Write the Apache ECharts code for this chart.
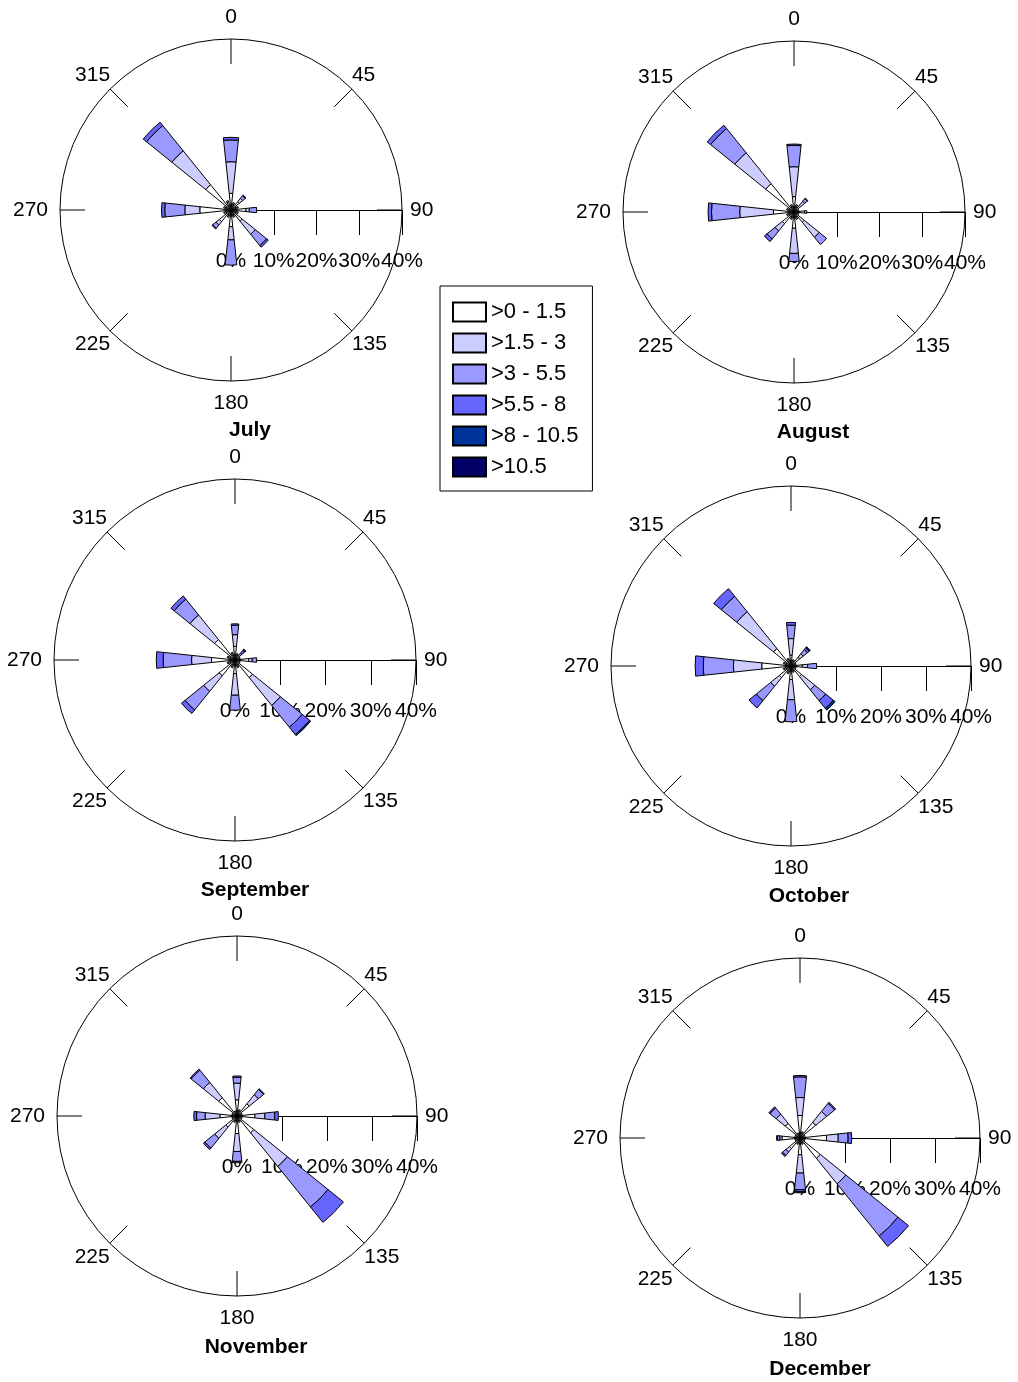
<!DOCTYPE html>
<html><head><meta charset="utf-8">
<script src="https://cdn.jsdelivr.net/npm/echarts@6/dist/echarts.min.js"></script>
<style>html,body{margin:0;padding:0;background:#fff}#c{width:1018px;height:1382px}</style>
</head><body><div id="c"></div>
<script>
// ---------- data ----------
const directions = ['N','NNE','NE','ENE','E','ESE','SE','SSE','S','SSW','SW','WSW','W','WNW','NW','NNW'];
const speedClasses = ['>0 - 1.5', '>1.5 - 3', '>3 - 5.5', '>5.5 - 8', '>8 - 10.5', '>10.5'];
const months = ['July', 'August', 'September', 'October', 'November', 'December'];
const compassTicks = [0, 45, 90, 135, 180, 225, 270, 315];
const percentTicks = [0, 10, 20, 30, 40];

// frequency (%) per speed class; each row follows `directions`
const julyFreq = [
  [3.9,1.5,2.5,1.5,3.5,1.5,3.4,1.5,3.9,1.5,3.5,1.5,7.3,1.5,7.6,2.0],
  [7.4,0.3,1.0,0.3,0.8,0.3,3.9,0.3,3.1,0.3,1.0,0.3,3.5,0.3,10.2,0.3],
  [5.1,0,0.8,0,1.7,0,3.4,0,5.9,0,1.0,0,4.7,0,7.6,0],
  [0.6,0,0.2,0,0,0,0.5,0,0,0,0.2,0,0.75,0,1.0,0],
  [0,0,0,0,0,0,0,0,0,0,0,0,0,0,0,0],
  [0,0,0,0,0,0,0,0,0,0,0,0,0,0,0,0]
];
const augustFreq = [
  [3.6,1.5,2.0,1.2,2.5,1.2,3.1,1.5,3.8,1.5,3.5,1.5,4.8,1.5,8.5,1.5],
  [7.0,0.3,1.2,0,0.5,0,4.5,0.3,5.9,0.3,2.2,0.3,7.9,0.3,9.3,0.3],
  [5.0,0,0.8,0,0,0,2.2,0,1.9,0,2.4,0,6.6,0,7.3,0],
  [0.3,0,0.2,0,0,0,0,0,0,0,0.8,0,0.8,0,1.0,0],
  [0,0,0,0,0,0,0,0,0,0,0,0,0,0,0,0],
  [0,0,0,0,0,0,0,0,0,0,0,0,0,0,0,0]
];
const septemberFreq = [
  [3.0,1.2,1.2,1.2,3.0,1.2,5.0,1.5,3.0,1.5,4.5,1.5,5.2,1.5,5.8,1.5],
  [2.6,0.3,0.4,0,0.8,0,7.9,0.3,4.8,0.3,4.4,0.3,4.4,0.3,7.0,0.3],
  [2.1,0,0.5,0,1.0,0,6.2,0,3.3,0,5.3,0,6.3,0,4.5,0],
  [0.3,0,0.7,0,0,0,2.1,0,0,0,1.0,0,1.5,0,0.9,0],
  [0,0,0.3,0,0,0,0.3,0,0,0,0,0,0,0,0,0],
  [0,0,0,0,0,0,0,0,0,0,0,0,0,0,0,0]
];
const octoberFreq = [
  [2.4,1.2,2.5,1.2,2.5,1.2,3.0,1.2,3.0,1.5,3.3,1.5,6.5,1.5,5.0,1.5],
  [3.7,0.3,1.0,0,1.2,0,3.8,0.3,4.5,0.3,2.5,0.3,6.3,0.3,10.5,0.3],
  [3.0,0,1.2,0,2.0,0,3.1,0,4.9,0,4.1,0,6.7,0,4.4,0],
  [0.6,0,0.5,0,0,0,2.2,0,0,0,2.1,0,1.8,0,2.2,0],
  [0,0,0.3,0,0,0,0.5,0,0,0,0,0,0,0,0,0],
  [0,0,0,0,0,0,0,0,0,0,0,0,0,0,0,0]
];
const novemberFreq = [
  [3.6,1.2,3.5,1.2,4.0,1.2,4.8,1.2,3.9,1.2,3.2,1.2,3.8,1.2,5.2,1.2],
  [3.7,0.3,2.6,0,2.2,0,9.6,0.3,4.0,0.3,3.2,0,3.3,0,4.4,0],
  [1.3,0,1.5,0,2.2,0,11.6,0,2.2,0,2.8,0,1.9,0,3.5,0],
  [0.3,0,0.2,0,0.8,0,4.4,0,0.3,0,0.4,0,0.6,0,0.3,0],
  [0,0,0,0,0,0,0,0,0,0,0,0,0,0,0,0],
  [0,0,0,0,0,0,0,0,0,0,0,0,0,0,0,0]
];
const decemberFreq = [
  [5.0,1.2,4.5,1.2,5.9,1.2,5.8,1.2,3.7,1.2,3.0,1.2,4.0,1.2,4.2,1.2],
  [4.0,0.3,3.1,0,2.6,0,7.3,0.3,4.1,0.3,1.0,0,0.5,0,2.6,0],
  [4.6,0,2.3,0,2.2,0,14.9,0,3.7,0,1.0,0,0.5,0,1.8,0],
  [0.3,0,0.3,0,0.8,0,3.0,0,0.4,0,0.3,0,0.2,0,0.3,0],
  [0,0,0,0,0,0,0,0,0.3,0,0,0,0,0,0,0],
  [0,0,0,0,0,0,0,0,0,0,0,0,0,0,0,0]
];
const monthData = [julyFreq, augustFreq, septemberFreq, octoberFreq, novemberFreq, decemberFreq];

// ---------- layout & style ----------
const layout = [
  {cx:231, cy:210, r:171, tx:250, ty:430},
  {cx:794, cy:212, r:171, tx:813, ty:432},
  {cx:235, cy:660, r:181, tx:255, ty:890},
  {cx:791, cy:666, r:180, tx:809, ty:896},
  {cx:237, cy:1116, r:180, tx:256, ty:1347},
  {cx:800, cy:1138, r:180, tx:820, ty:1369}
];
const colors = ['#ffffff', '#ccccff', '#9999ff', '#6666ff', '#003399', '#000066'];
const FONT = '"Liberation Sans", Arial, sans-serif';
const labelBase = {fontSize:21, color:'#000', fontFamily:FONT};
const labelRich = {
  t: Object.assign({padding:[0, 0, 11, 0]}, labelBase),
  r: Object.assign({padding:[0, 0, 0, 8]}, labelBase),
  b: Object.assign({padding:[12, 0, 0, 0]}, labelBase),
  l: Object.assign({padding:[0, 12, 0, 0]}, labelBase),
  u: Object.assign({padding:[0, 0, 3, 0]}, labelBase),
  d: Object.assign({padding:[3, 0, 0, 0]}, labelBase)
};
const richKey = {0:'t', 45:'u', 90:'r', 135:'d', 180:'b', 225:'d', 270:'l', 315:'u'};

const polar = [], angleAxis = [], radiusAxis = [], grid = [], xAxis = [], yAxis = [], series = [], graphic = [];
const N = layout.length;
layout.forEach((L) => polar.push({center:[L.cx, L.cy], radius:L.r}));
layout.forEach((L) => polar.push({center:[L.cx, L.cy], radius:L.r}));

layout.forEach((L, i) => {
  // bars polar
  angleAxis.push({polarIndex:i, type:'category', data:directions, startAngle:90 + 360 / directions.length / 2,
    clockwise:true, boundaryGap:true, axisLine:{show:false}, axisTick:{show:false}, axisLabel:{show:false},
    splitLine:{show:false}, splitArea:{show:false}});
  radiusAxis.push({polarIndex:i, type:'value', min:0, max:40, show:false, splitLine:{show:false}});
});
layout.forEach((L, i) => {
  // decoration polar: circle, compass ticks and labels
  angleAxis.push({polarIndex:N + i, type:'value', min:0, max:360, interval:45, startAngle:90, clockwise:true,
    axisLine:{show:true, lineStyle:{color:'#000', width:1}},
    axisTick:{show:true, inside:true, length:25, lineStyle:{color:'#000', width:1}},
    axisLabel:Object.assign({show:true, margin:0, rich:labelRich,
      formatter:(v) => compassTicks.indexOf(v) >= 0 ? '{' + richKey[v] + '|' + v + '}' : ''}, labelBase),
    splitLine:{show:false}, splitArea:{show:false}});
  radiusAxis.push({polarIndex:N + i, type:'value', min:0, max:40, show:false, splitLine:{show:false}});

  // the 90° radius scale
  grid.push({left:L.cx, top:L.cy - 1, width:L.r, height:1, containLabel:false});
  xAxis.push({gridIndex:i, type:'value', min:percentTicks[0], max:percentTicks[percentTicks.length - 1], interval:10,
    position:'bottom', axisLine:{show:true, lineStyle:{color:'#000', width:1}},
    axisTick:{show:true, length:25, lineStyle:{color:'#000', width:1}},
    axisLabel:Object.assign({margin:41, formatter:'{value}%'}, labelBase),
    splitLine:{show:false}});
  yAxis.push({gridIndex:i, type:'value', show:false});

  speedClasses.forEach((name, k) => {
    series.push({type:'bar', coordinateSystem:'polar', polarIndex:i, name:name, stack:'rose' + i,
      barWidth:'54%', data:monthData[i][k].map(v => v > 0 ? v : '-'),
      itemStyle:{color:colors[k], borderColor:'#000', borderWidth:1},
      emphasis:{disabled:true}, z:3});
  });

  graphic.push({type:'text', x:L.tx, y:L.ty, z:10,
    style:{text:months[i], fontSize:21, fontWeight:'bold', fontFamily:FONT, fill:'#000', align:'center', verticalAlign:'middle'}});
});

const chart = echarts.init(document.getElementById('c'), null, {renderer:'canvas'});
chart.setOption({
  animation:false,
  backgroundColor:'#fff',
  polar, angleAxis, radiusAxis, grid, xAxis, yAxis, series, graphic,
  legend:{data:speedClasses, orient:'vertical', left:440, top:286, itemWidth:33, itemHeight:19, itemGap:9,
    padding:[15, 14, 13, 12], borderColor:'#000', borderWidth:1, icon:'rect', selectedMode:false,
    textStyle:{fontSize:22, color:'#000', fontFamily:FONT}},
  tooltip:{show:false}
});
</script></body></html>
